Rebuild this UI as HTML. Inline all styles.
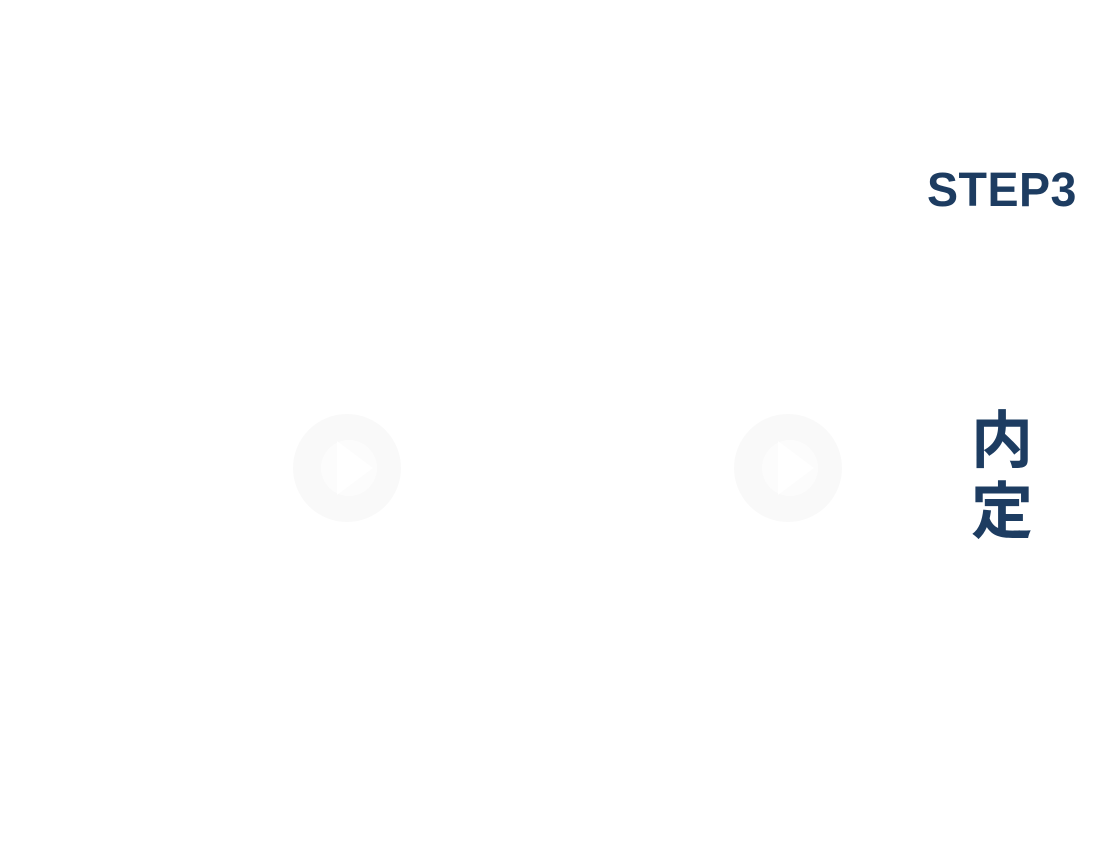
<!DOCTYPE html>
<html><head><meta charset="utf-8"><style>
html,body{margin:0;padding:0;background:#fff;width:1120px;height:854px;overflow:hidden;position:relative}
.t{position:absolute;color:#1d3c61;font-weight:bold;font-family:"Liberation Sans","Noto Sans CJK JP",sans-serif}
</style></head><body>
<div class="t" style="left:927px;top:161px;font-size:48px;letter-spacing:0.5px;line-height:60px;transform:scaleX(0.97);transform-origin:left">STEP3</div>
<div class="t" style="left:970px;top:406px;font-size:62px;line-height:71px;width:64px;text-align:center">内<br>定</div>
<svg width="1120" height="854" style="position:absolute;left:0;top:0">
<g fill="#f9f9f9"><circle cx="347" cy="468" r="54"/><circle cx="788" cy="468" r="54"/></g>
<g fill="#fcfcfc"><circle cx="349" cy="468" r="28"/><circle cx="790" cy="468" r="28"/></g>
<g fill="#fff"><polygon points="337,441 373,468 337,495"/><polygon points="778,441 814,468 778,495"/></g>
</svg>
</body></html>
